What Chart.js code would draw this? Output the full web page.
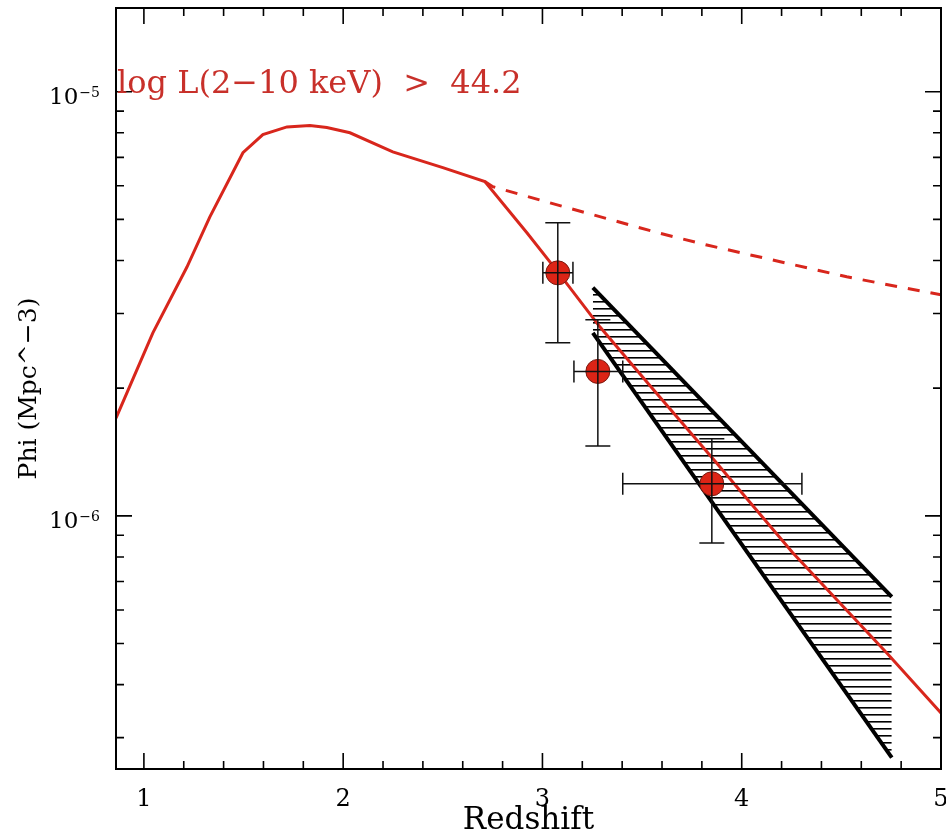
<!DOCTYPE html>
<html><head><meta charset="utf-8">
<script src="https://cdn.jsdelivr.net/npm/chart.js@4.4.1/dist/chart.umd.min.js"></script>
<style>html,body{margin:0;padding:0;background:#fff;}canvas{display:block;}</style>
</head><body>
<canvas id="c" width="946" height="840"></canvas>
<script>
// ---- data ----
const modelZ   = [0.86, 1.045, 1.216, 1.331, 1.497, 1.597, 1.718, 1.833, 1.918, 2.034, 2.249, 2.500, 2.711, 2.922, 3.077, 3.288, 3.539, 3.875, 4.256, 4.728, 5.0];
const modelPhi = [1.70e-6, 2.70e-6, 3.86e-6, 5.07e-6, 7.18e-6, 7.92e-6, 8.26e-6, 8.32e-6, 8.23e-6, 8.00e-6, 7.21e-6, 6.62e-6, 6.14e-6, 4.65e-6, 3.76e-6, 2.79e-6, 2.03e-6, 1.33e-6, 8.18e-7, 4.75e-7, 3.43e-7];
const noDeclineZ   = [2.711, 2.751, 3.037, 3.579, 3.825, 4.527, 5.0];
const noDeclinePhi = [6.14e-6, 5.97e-6, 5.47e-6, 4.65e-6, 4.35e-6, 3.66e-6, 3.32e-6];
const obsZ     = [3.077, 3.278, 3.850];
const obsZLo   = [3.002, 3.158, 3.403];
const obsZHi   = [3.153, 3.403, 4.302];
const obsPhi   = [3.74e-6, 2.19e-6, 1.19e-6];
const obsPhiLo = [2.56e-6, 1.46e-6, 8.63e-7];
const obsPhiHi = [4.91e-6, 2.90e-6, 1.52e-6];
const bandZ     = [3.253, 4.753];
const bandUpper = [3.45e-6, 6.44e-7];
const bandLower = [2.70e-6, 2.69e-7];
const xTickValues = [1, 2, 3, 4, 5];
const xTickLabels = ['1', '2', '3', '4', '5'];
const yTickValues = [1e-6, 1e-5];
const yTickBase   = ['10', '10'];
const yTickExp    = ['\u22126', '\u22125'];
const annotText = 'log L(2\u221210 keV)  >  44.2';
const annotZ = 0.865, annotPhi = 9.95e-6;
const xMin = 0.86, xMax = 5.0, yMin = 2.53e-7, yMax = 1.575e-5;

const RED = '#d8261c', TEXTRED = '#c8302a';
const SERIF = 'DejaVu Serif';
const pts = (xs, ys) => xs.map((x, i) => ({x, y: ys[i]}));

const hatch = (() => {
  const c = document.createElement('canvas'); c.width = 8; c.height = 7;
  const g = c.getContext('2d'); g.fillStyle = '#000'; g.fillRect(0, 0, 8, 1.6);
  return g.createPattern(c, 'repeat');
})();

const framePlugin = {
  id: 'frameTicks',
  afterDraw(chart) {
    const {ctx, chartArea: a, scales: {x, y}} = chart;
    ctx.save();
    ctx.strokeStyle = '#000';
    ctx.lineWidth = 1.6;
    for (let k = Math.ceil(xMin / 0.2 - 1e-9); k <= Math.floor(xMax / 0.2 + 1e-9); k++) {
      const px = x.getPixelForValue(k * 0.2);
      const len = (k % 5 === 0) ? 16 : 8;
      ctx.beginPath();
      ctx.moveTo(px, a.bottom); ctx.lineTo(px, a.bottom - len);
      ctx.moveTo(px, a.top); ctx.lineTo(px, a.top + len);
      ctx.stroke();
    }
    for (let e = -8; e <= -4; e++) {
      for (let m = 1; m <= 9; m++) {
        const v = m * Math.pow(10, e);
        if (v < yMin || v > yMax) continue;
        const py = y.getPixelForValue(v);
        const len = (m === 1) ? 16 : 8;
        ctx.beginPath();
        ctx.moveTo(a.left, py); ctx.lineTo(a.left + len, py);
        ctx.moveTo(a.right, py); ctx.lineTo(a.right - len, py);
        ctx.stroke();
      }
    }
    ctx.lineWidth = 2;
    ctx.strokeRect(a.left, a.top, a.right - a.left, a.bottom - a.top);
    // y tick labels with superscript exponents
    ctx.fillStyle = '#000';
    ctx.textBaseline = 'alphabetic';
    yTickValues.forEach((v, i) => {
      const py = y.getPixelForValue(v);
      const right = a.left - 16;
      ctx.textAlign = 'right';
      ctx.font = '14px "' + SERIF + '"';
      const ew = ctx.measureText(yTickExp[i]).width;
      ctx.fillText(yTickExp[i], right, py + 5);
      ctx.font = '23px "' + SERIF + '"';
      ctx.fillText(yTickBase[i], right - ew - 1, py + 12);
    });
    // annotation text
    ctx.font = '32px "' + SERIF + '"';
    ctx.fillStyle = TEXTRED;
    ctx.textAlign = 'left';
    ctx.fillText(annotText, x.getPixelForValue(annotZ), y.getPixelForValue(annotPhi));
    ctx.restore();
  }
};

const errPlugin = {
  id: 'errBars',
  afterDatasetsDraw(chart) {
    const {ctx, scales: {x, y}} = chart;
    ctx.save();
    ctx.strokeStyle = '#111';
    ctx.lineWidth = 1.5;
    for (let i = 0; i < obsZ.length; i++) {
      const cx = x.getPixelForValue(obsZ[i]), cy = y.getPixelForValue(obsPhi[i]);
      const x0 = x.getPixelForValue(obsZLo[i]), x1 = x.getPixelForValue(obsZHi[i]);
      const y0 = y.getPixelForValue(obsPhiLo[i]), y1 = y.getPixelForValue(obsPhiHi[i]);
      ctx.beginPath();
      ctx.moveTo(cx, y0); ctx.lineTo(cx, y1);
      ctx.moveTo(cx - 12.5, y0); ctx.lineTo(cx + 12.5, y0);
      ctx.moveTo(cx - 12.5, y1); ctx.lineTo(cx + 12.5, y1);
      ctx.moveTo(x0, cy); ctx.lineTo(x1, cy);
      ctx.moveTo(x0, cy - 11); ctx.lineTo(x0, cy + 11);
      ctx.moveTo(x1, cy - 11); ctx.lineTo(x1, cy + 11);
      ctx.stroke();
    }
    ctx.restore();
  }
};

new Chart(document.getElementById('c'), {
  type: 'line',
  data: {
    datasets: [
      {label: 'data', data: pts(obsZ, obsPhi), showLine: false, pointRadius: 12, pointHoverRadius: 12,
       pointBackgroundColor: '#dc2416', pointBorderColor: '#7a1a10', pointBorderWidth: 1, order: 0},
      {label: 'model', data: pts(modelZ, modelPhi), borderColor: RED, borderWidth: 3, pointRadius: 0, tension: 0, fill: false, order: 1},
      {label: 'no decline', data: pts(noDeclineZ, noDeclinePhi), borderColor: RED, borderWidth: 3, borderDash: [12, 11], pointRadius: 0, tension: 0, fill: false, order: 2},
      {label: 'band upper', data: pts(bandZ, bandUpper), borderColor: '#000', borderWidth: 4, pointRadius: 0, tension: 0, fill: false, order: 3},
      {label: 'band lower', data: pts(bandZ, bandLower), borderColor: '#000', borderWidth: 4, pointRadius: 0, tension: 0, fill: '-1', backgroundColor: hatch, order: 4}
    ]
  },
  options: {
    responsive: false, animation: false, devicePixelRatio: 1,
    layout: {padding: {top: 8, right: 5, left: 0, bottom: 0}, autoPadding: false},
    plugins: {legend: {display: false}, tooltip: {enabled: false}, filler: {propagate: false}},
    scales: {
      x: {
        type: 'linear', min: xMin, max: xMax,
        grid: {display: false}, border: {display: false},
        afterBuildTicks: s => { s.ticks = xTickValues.map(v => ({value: v})); },
        afterFit: s => { s.height = 71; s.paddingLeft = 0; s.paddingRight = 0; },
        ticks: {font: {family: SERIF, size: 24}, color: '#000', padding: 8, maxRotation: 0, autoSkip: false,
                callback: v => { const i = xTickValues.indexOf(v); return i >= 0 ? xTickLabels[i] : ''; }},
        title: {display: true, text: 'Redshift', color: '#000', font: {family: SERIF, size: 31}, padding: {top: 0, bottom: 0}}
      },
      y: {
        type: 'logarithmic', min: yMin, max: yMax,
        grid: {display: false}, border: {display: false},
        afterBuildTicks: s => { s.ticks = yTickValues.map(v => ({value: v})); },
        afterFit: s => { s.width = 116; s.paddingTop = 0; s.paddingBottom = 0; },
        ticks: {display: false},
        title: {display: true, text: 'Phi (Mpc^\u22123)', color: '#000', font: {family: SERIF, size: 25}, padding: {top: 14, bottom: 0}}
      }
    }
  },
  plugins: [errPlugin, framePlugin]
});
</script>
</body></html>
